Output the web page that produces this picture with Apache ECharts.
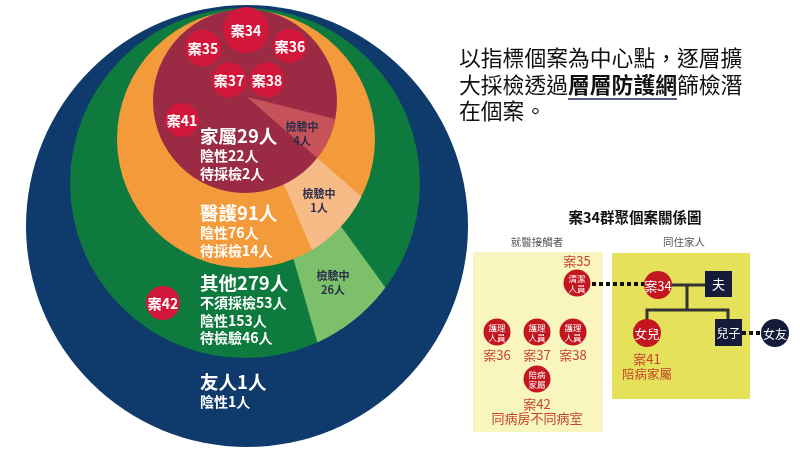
<!DOCTYPE html>
<html>
<head>
<meta charset="utf-8">
<script src="https://cdn.jsdelivr.net/npm/echarts@6/dist/echarts.min.js"></script>
<style>
html, body { margin: 0; padding: 0; background: #fff; }
#main { width: 800px; height: 451px; }
</style>
</head>
<body>
<div id="main"></div>
<script>
// 各層接觸者（由外到內）
const layerNames = ['友人', '其他', '醫護', '家屬'];
const layerTotals = [1, 279, 91, 29];
const layerTesting = [0, 26, 1, 4]; // 檢驗中
const layerDetails = [
    ['陰性1人'],
    ['不須採檢53人', '陰性153人', '待檢驗46人'],
    ['陰性76人', '待採檢14人'],
    ['陰性22人', '待採檢2人']
];
const caseLabels = ['案34', '案35', '案36', '案37', '案38', '案41', '案42'];

// 右側關係圖
const clinicRoles = ['清潔\n人員', '護理\n人員', '護理\n人員', '護理\n人員', '陪病\n家屬'];
const clinicCases = ['案35', '案36', '案37', '案38', '案42\n同病房不同病室'];
const familyNodes = ['案34', '夫', '女兒', '兒子', '女友'];

const FONT = '"Noto Sans CJK TC", "Noto Sans CJK SC", sans-serif';

// 版面
const ringGeo = [
    { cx: 247, cy: 226, r: 221, color: '#0f3b6c' },
    { cx: 245, cy: 183, r: 175, color: '#0e7a3e', light: '#7cc06c', from: 54, to: 74, lab: [333, 283] },
    { cx: 246, cy: 139, r: 129, color: '#f39a3a', light: '#f6bb86', from: 41, to: 67, lab: [319, 201] },
    { cx: 245, cy: 101, r: 92, color: '#9b2a45', light: '#c6535a', from: 14, to: 41, lab: [302, 134] }
];
const apex = [247, 97];
const headY = [382, 283, 213, 136];
const caseSpots = [[246, 30, 23], [203, 48, 18], [290, 46, 17], [229, 80, 17.5], [267, 80, 17.5], [182, 120, 17], [163, 303, 17]];

function wedgePoints(g) {
    const ax = apex[0], ay = apex[1];
    function hit(deg) {
        const a = deg * Math.PI / 180, dx = Math.cos(a), dy = Math.sin(a);
        const fx = ax - g.cx, fy = ay - g.cy;
        const b = fx * dx + fy * dy, c = fx * fx + fy * fy - g.r * g.r;
        const t = -b + Math.sqrt(b * b - c);
        return [ax + t * dx, ay + t * dy];
    }
    const p1 = hit(g.from), p2 = hit(g.to);
    const a1 = Math.atan2(p1[1] - g.cy, p1[0] - g.cx);
    const a2 = Math.atan2(p2[1] - g.cy, p2[0] - g.cx);
    const pts = [[ax, ay]];
    for (let k = 0; k <= 40; k++) {
        const a = a1 + (a2 - a1) * k / 40;
        pts.push([g.cx + g.r * Math.cos(a), g.cy + g.r * Math.sin(a)]);
    }
    return pts;
}

function txt(x, y, s, size, fill, weight, align, lh) {
    return {
        type: 'text', x: x, y: y, z: 50, silent: true,
        style: {
            text: s, fill: fill, fontSize: size, fontWeight: weight || 'normal', fontFamily: FONT,
            textAlign: align || 'left', textVerticalAlign: 'middle', verticalAlign: 'middle',
            lineHeight: lh || Math.round(size * 1.2)
        }
    };
}
function circ(x, y, r, fill, z) {
    return { type: 'circle', z: z || 40, silent: true, shape: { cx: x, cy: y, r: r }, style: { fill: fill } };
}
function rect(x, y, w, h, fill, z) {
    return { type: 'rect', z: z || 40, silent: true, shape: { x: x, y: y, width: w, height: h }, style: { fill: fill } };
}
function line(pts, stroke, w, dash, z) {
    return { type: 'polyline', z: z || 41, silent: true, shape: { points: pts }, style: { stroke: stroke, lineWidth: w, lineDash: dash || null, fill: null } };
}

const graphics = [];

// 同心圓上的文字
layerNames.forEach(function (n, i) {
    graphics.push(txt(200, headY[i], n + layerTotals[i] + '人', 18.5, '#fff', 'bold'));
    layerDetails[i].forEach(function (d, k) {
        graphics.push(txt(200, headY[i] + 20 + k * 17.5, d, 14, '#fff', 'bold'));
    });
    if (layerTesting[i] > 0) {
        const p = ringGeo[i].lab;
        graphics.push(txt(p[0], p[1], '檢驗中\n' + layerTesting[i] + '人', 11, '#2b2d4a', 'bold', 'center', 14));
    }
});
caseLabels.forEach(function (c, i) {
    const s = caseSpots[i];
    graphics.push(circ(s[0], s[1], s[2], '#d2173b', 45));
    graphics.push(txt(s[0], s[1] + 1, c, 14, '#fff', 'bold', 'center'));
});

// 說明文字
graphics.push(txt(459, 58, '以指標個案為中心點，逐層擴', 21.8, '#111'));
graphics.push(txt(459, 85, '大採檢透過', 21.8, '#111'));
graphics.push(txt(568, 85, '層層防護網', 21.8, '#111', 'bold'));
graphics.push(txt(677, 85, '篩檢潛', 21.8, '#111'));
graphics.push(txt(459, 111, '在個案。', 21.8, '#111'));
graphics.push(line([[568, 99], [677, 99]], '#1e2a5a', 1.5));

// 關係圖
const red = '#c3161f', navy = '#141c3a', labRed = '#c4432a';
graphics.push(txt(635, 217, '案34群聚個案關係圖', 14.5, '#111', 'bold', 'center'));
graphics.push(txt(537, 242, '就醫接觸者', 10.5, '#555', 'normal', 'center'));
graphics.push(txt(684, 242, '同住家人', 10.5, '#555', 'normal', 'center'));
graphics.push(rect(473, 252, 130, 180, '#f8f5bf', 30));
graphics.push(rect(612, 253, 138, 146, '#e6e15a', 30));

const clinicPos = [[577, 283], [497, 332], [537, 332], [573, 332], [537, 379]];
clinicRoles.forEach(function (r, i) {
    const p = clinicPos[i];
    graphics.push(circ(p[0], p[1], 13.5, red));
    graphics.push(txt(p[0], p[1] + 0.5, r, 8.5, '#fff', 'normal', 'center', 10));
    if (i === 0) {
        graphics.push(txt(p[0], p[1] - 22, clinicCases[i], 13, labRed, 'normal', 'center'));
    } else if (i === 4) {
        graphics.push(txt(p[0], p[1] + 32, clinicCases[i], 13, labRed, 'normal', 'center', 14));
    } else {
        graphics.push(txt(p[0], p[1] + 23, clinicCases[i], 13, labRed, 'normal', 'center'));
    }
});

// 家人連線
graphics.push(line([[592, 284], [645, 284]], '#111', 4, [4, 3]));
graphics.push(line([[658, 285], [706, 285]], '#333', 3));
graphics.push(line([[687, 285], [687, 310]], '#333', 3));
graphics.push(line([[647, 322], [647, 310], [728, 310], [728, 320]], '#333', 3));
graphics.push(line([[742, 333], [762, 333]], '#111', 4, [4, 3]));

graphics.push(circ(658, 285, 14, red, 42));
graphics.push(txt(658, 286, familyNodes[0], 13, '#fff', 'normal', 'center'));
graphics.push(rect(705, 271, 27, 26, navy, 42));
graphics.push(txt(718.5, 284.5, familyNodes[1], 13, '#fff', 'normal', 'center'));
graphics.push(circ(647, 333, 14, red, 42));
graphics.push(txt(647, 334, familyNodes[2], 12.5, '#fff', 'normal', 'center'));
graphics.push(rect(715, 319, 27, 27, navy, 42));
graphics.push(txt(728.5, 333, familyNodes[3], 12, '#fff', 'normal', 'center'));
graphics.push(circ(775, 333, 14, navy, 42));
graphics.push(txt(775, 334, familyNodes[4], 12, '#fff', 'normal', 'center'));
graphics.push(txt(647, 359, '案41', 13, labRed, 'normal', 'center'));
graphics.push(txt(647, 374, '陪病家屬', 12.5, labRed, 'normal', 'center'));

const chart = echarts.init(document.getElementById('main'), null, { renderer: 'canvas' });
chart.setOption({
    animation: false,
    backgroundColor: '#fff',
    series: [{
        type: 'custom',
        coordinateSystem: 'none',
        silent: true,
        data: layerTotals.map(function (v, i) { return [i, v, layerTesting[i]]; }),
        renderItem: function (params, api) {
            const i = params.dataIndex;
            const g = ringGeo[i];
            const children = [{
                type: 'circle', z2: i * 10,
                shape: { cx: g.cx, cy: g.cy, r: g.r },
                style: { fill: g.color }
            }];
            if (api.value(2) > 0) {
                children.push({
                    type: 'polygon', z2: i * 10 + 1,
                    shape: { points: wedgePoints(g) },
                    style: { fill: g.light }
                });
            }
            return { type: 'group', children: children };
        }
    }],
    graphic: { elements: graphics }
});
</script>
</body>
</html>
